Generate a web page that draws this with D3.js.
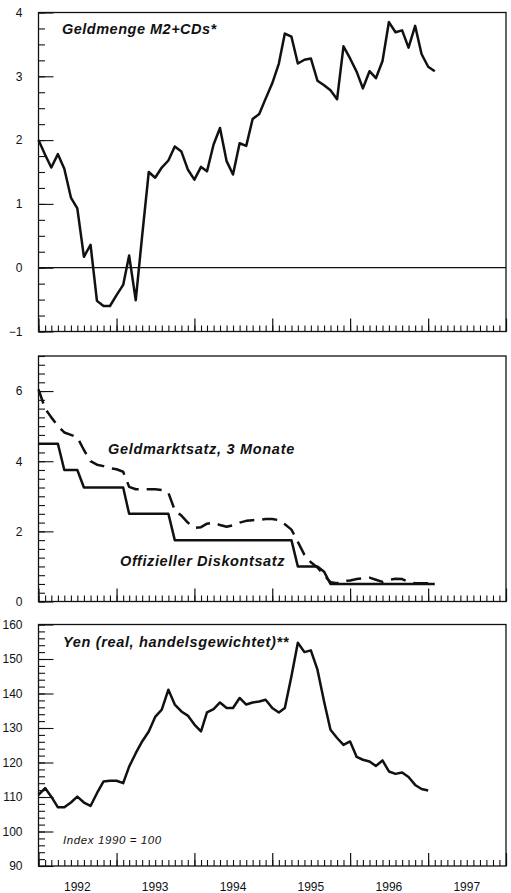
<!DOCTYPE html>
<html>
<head>
<meta charset="utf-8">
<script src="https://cdn.jsdelivr.net/npm/d3@7"></script>
<style>
  html, body { margin: 0; padding: 0; background: #fff; }
  svg { display: block; font-family: "Liberation Sans", Arial, Helvetica, sans-serif; }
</style>
</head>
<body>
<svg id="chart" width="511" height="893"></svg>
<script>
// Monthly series, starting January 1992
const years = ["1992", "1993", "1994", "1995", "1996", "1997"];

// Geldmenge M2+CDs (upper panel)
const m2Growth = [
  2.0, 1.77, 1.57, 1.78, 1.55, 1.10, 0.93, 0.17, 0.36, -0.52, -0.60, -0.60,
  -0.43, -0.27, 0.19, -0.51, 0.50, 1.50, 1.41, 1.57, 1.68, 1.90, 1.82, 1.54,
  1.38, 1.58, 1.51, 1.93, 2.19, 1.67, 1.46, 1.95, 1.91, 2.33, 2.41, 2.65,
  2.89, 3.20, 3.67, 3.62, 3.20, 3.26, 3.28, 2.93, 2.86, 2.78, 2.64, 3.47,
  3.28, 3.07, 2.81, 3.08, 2.97, 3.24, 3.85, 3.69, 3.72, 3.45, 3.79, 3.35,
  3.15, 3.08
];

// Offizieller Diskontsatz (middle panel, solid)
const discountRate = [
  4.5, 4.5, 4.5, 4.5, 3.75, 3.75, 3.75, 3.25, 3.25, 3.25, 3.25, 3.25,
  3.25, 3.25, 2.5, 2.5, 2.5, 2.5, 2.5, 2.5, 2.5, 1.75, 1.75, 1.75,
  1.75, 1.75, 1.75, 1.75, 1.75, 1.75, 1.75, 1.75, 1.75, 1.75, 1.75, 1.75,
  1.75, 1.75, 1.75, 1.75, 1.0, 1.0, 1.0, 1.0, 0.85, 0.5, 0.5, 0.5,
  0.5, 0.5, 0.5, 0.5, 0.5, 0.5, 0.5, 0.5, 0.5, 0.5, 0.5, 0.5,
  0.5, 0.5
];

// Geldmarktsatz, 3 Monate (middle panel, dashed)
const moneyMarketRate = [
  6.05, 5.5, 5.25, 5.0, 4.82, 4.75, 4.68, 4.32, 4.0, 3.9, 3.86, 3.8,
  3.77, 3.7, 3.27, 3.2, 3.2, 3.2, 3.2, 3.18, 3.1, 2.6, 2.45, 2.25,
  2.1, 2.12, 2.22, 2.25, 2.18, 2.13, 2.17, 2.25, 2.3, 2.32, 2.33, 2.35,
  2.35, 2.32, 2.2, 2.05, 1.7, 1.33, 1.12, 0.97, 0.75, 0.55, 0.52, 0.58,
  0.6, 0.64, 0.66, 0.68, 0.62, 0.56, 0.62, 0.65, 0.64, 0.56, 0.52, 0.52,
  0.52, 0.52
];

// Yen, real, handelsgewichtet (lower panel, Index 1990 = 100)
const yenIndex = [
  110.6, 112.6, 110.1, 107.0, 107.0, 108.4, 110.1, 108.4, 107.4, 111.1, 114.5, 114.7,
  114.7, 114.0, 118.8, 122.7, 126.1, 129.0, 133.2, 135.3, 141.1, 136.8, 134.8, 133.6,
  131.0, 129.0, 134.5, 135.5, 137.4, 135.8, 135.8, 138.7, 136.8, 137.4, 137.7, 138.2,
  135.8, 134.5, 135.8, 145.0, 154.7, 152.0, 152.5, 146.9, 137.7, 129.5, 127.1, 125.1,
  126.1, 121.6, 120.8, 120.3, 119.0, 120.6, 117.4, 116.7, 117.1, 115.8, 113.5, 112.3,
  111.9
];

const m2TickLabels = [-1, 0, 1, 2, 3, 4];
const rateTickLabels = [0, 2, 4, 6];
const yenTickLabels = [90, 100, 110, 120, 130, 140, 150, 160];

const svg = d3.select("#chart");
const ink = "#111";
const left = 38.5, right = 506;

const start = new Date(1992, 0, 1);
const monthDate = i => d3.timeMonth.offset(start, i);

const x = d3.scaleTime()
  .domain([new Date(1992, 0, 1), new Date(1998, 0, 1)])
  .range([left, right]);

const allMonths = d3.timeMonth.range(new Date(1992, 0, 1), new Date(1998, 0, 2));
const yearStarts = d3.timeYear.range(new Date(1992, 0, 1), new Date(1998, 0, 2));

function panel(opts) {
  const g = svg.append("g");
  const y = d3.scaleLinear().domain(opts.domain).range([opts.bottom, opts.top]);

  // minor ticks on the y axis
  const minor = d3.range(opts.domain[0], opts.domain[1] + 1e-9, opts.minorStep);
  g.append("g")
    .attr("transform", `translate(${left},0)`)
    .call(d3.axisLeft(y).tickValues(minor).tickSize(-6.5).tickFormat(""))
    .call(a => a.select(".domain").remove())
    .call(a => a.selectAll("line").attr("stroke", ink).attr("stroke-width", 1.1));

  // major ticks with labels
  g.append("g")
    .attr("transform", `translate(${left},0)`)
    .call(d3.axisLeft(y).tickValues(opts.majorTicks).tickSize(-15).tickPadding(0)
      .tickFormat(d3.format("d")))
    .call(a => a.select(".domain").remove())
    .call(a => a.selectAll("line").attr("stroke", ink).attr("stroke-width", 1.1))
    .call(a => a.selectAll("text")
      .attr("x", -16)
      .attr("fill", ink)
      .attr("font-size", 12)
      .attr("font-family", "'Liberation Sans', Arial, sans-serif"));

  // month and year ticks along the bottom edge
  g.append("g")
    .attr("transform", `translate(0,${opts.bottom})`)
    .call(d3.axisBottom(x).tickValues(allMonths).tickSize(-6).tickFormat(""))
    .call(a => a.select(".domain").remove())
    .call(a => a.selectAll("line").attr("stroke", ink).attr("stroke-width", 1.1));
  g.append("g")
    .attr("transform", `translate(0,${opts.bottom})`)
    .call(d3.axisBottom(x).tickValues(yearStarts).tickSize(-13).tickFormat(""))
    .call(a => a.select(".domain").remove())
    .call(a => a.selectAll("line").attr("stroke", ink).attr("stroke-width", 1.2));

  // frame
  g.append("rect")
    .attr("x", left).attr("y", opts.top)
    .attr("width", right - left).attr("height", opts.bottom - opts.top)
    .attr("fill", "none").attr("stroke", ink).attr("stroke-width", 1.3);

  return { g, y };
}

const line = (y) => d3.line()
  .x((d, i) => x(monthDate(i)))
  .y(d => y(d));

function drawSeries(p, values, dash) {
  p.g.append("path")
    .datum(values)
    .attr("d", line(p.y))
    .attr("fill", "none")
    .attr("stroke", ink)
    .attr("stroke-width", 2.5)
    .attr("stroke-linejoin", "round")
    .attr("stroke-dasharray", dash || null);
}

function label(p, text, xPos, yPos, size, bold, spacing) {
  p.g.append("text")
    .attr("x", xPos).attr("y", yPos)
    .attr("font-size", size)
    .attr("font-style", "italic")
    .attr("font-weight", bold ? "bold" : "normal")
    .attr("letter-spacing", spacing)
    .attr("fill", ink)
    .text(text);
}

// Upper panel: money supply growth
const p1 = panel({ top: 12.5, bottom: 331.5, domain: [-1, 4], minorStep: 0.25, majorTicks: m2TickLabels });
p1.g.append("line")
  .attr("x1", left).attr("x2", right)
  .attr("y1", p1.y(0)).attr("y2", p1.y(0))
  .attr("stroke", ink).attr("stroke-width", 1.2);
drawSeries(p1, m2Growth);
label(p1, "Geldmenge M2+CDs*", 62, 34, 14.5, true, 0.5);

// Middle panel: interest rates
const p2 = panel({ top: 356, bottom: 601.5, domain: [0, 7], minorStep: 0.25, majorTicks: rateTickLabels });
drawSeries(p2, moneyMarketRate, "15,8");
drawSeries(p2, discountRate);
label(p2, "Geldmarktsatz, 3 Monate", 108, 454, 14.5, true, 0.7);
label(p2, "Offizieller Diskontsatz", 120, 566, 14.5, true, 0.6);

// Lower panel: yen exchange rate
const p3 = panel({ top: 624.5, bottom: 866, domain: [90, 160], minorStep: 2, majorTicks: yenTickLabels });
drawSeries(p3, yenIndex);
label(p3, "Yen (real, handelsgewichtet)**", 63, 647, 14.5, true, 0.65);
label(p3, "Index 1990 = 100", 63, 844, 11.5, false, 0.6);

// year labels centred under each year
svg.append("g")
  .selectAll("text")
  .data(years)
  .join("text")
  .attr("x", d => x(d3.timeMonth.offset(new Date(+d, 0, 1), 6)))
  .attr("y", 891)
  .attr("text-anchor", "middle")
  .attr("font-size", 12)
  .attr("fill", ink)
  .text(d => d);
</script>
</body>
</html>
